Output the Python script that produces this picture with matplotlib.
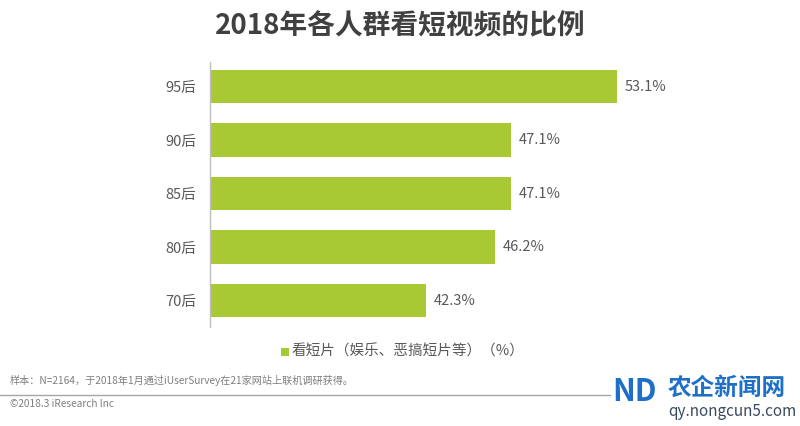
import matplotlib
matplotlib.use("Agg")
import matplotlib.pyplot as plt
from matplotlib.patches import Rectangle

plt.rcParams['font.family'] = ['Noto Sans CJK SC', 'DejaVu Sans']

categories = ["95后", "90后", "85后", "80后", "70后"]
values = [53.1, 47.1, 47.1, 46.2, 42.3]
value_labels = ["53.1%", "47.1%", "47.1%", "46.2%", "42.3%"]
title = "2018年各人群看短视频的比例"
legend_label = "看短片（娱乐、恶搞短片等）（%）"
footnote = "样本：N=2164，于2018年1月通过iUserSurvey在21家网站上联机调研获得。"
copyright_text = "©2018.3 iResearch Inc"

W, H = 800, 426
fig = plt.figure(figsize=(W / 100, H / 100), dpi=100)
fig.patch.set_facecolor("white")

bar_color = "#A8C934"
text_color = "#595959"

# axes: x from 210 to 700 px, y from 62 to 327 px
ax_left, ax_right = 210, 700
ax_top, ax_bottom = 62, 327
ax = fig.add_axes([ax_left / W, 1 - ax_bottom / H, (ax_right - ax_left) / W, (ax_bottom - ax_top) / H])
ax.set_facecolor("none")

xmin = 30
xmax = xmin + (ax_right - ax_left) / 17.6
pos = list(range(len(categories)))
ax.barh(pos, values, left=0, height=0.62, color=bar_color, edgecolor="none", zorder=2)
ax.set_xlim(xmin, xmax)
ax.set_ylim(4.495, -0.458)

for p, v, lab in zip(pos, values, value_labels):
    ax.annotate(lab, xy=(v, p), xytext=(5.5, 0), textcoords="offset points",
                ha="left", va="center", fontsize=10.5, color=text_color)

ax.set_yticks(pos)
ax.set_yticklabels(categories, fontsize=10.5, color=text_color)
ax.tick_params(axis="y", length=0, pad=10)
ax.set_xticks([])
for s in ["top", "right", "bottom"]:
    ax.spines[s].set_visible(False)
ax.spines["left"].set_color("#BFBFBF")
ax.spines["left"].set_linewidth(1.0)

# title
fig.text(400 / W, 1 - 26 / H, title, ha="center", va="center", fontsize=20,
         fontweight="bold", color="#404040")

# legend
fig.patches.append(Rectangle((281 / W, 1 - 356 / H), 8 / W, 8 / H, transform=fig.transFigure,
                             facecolor=bar_color, edgecolor="none"))
fig.text(292 / W, 1 - 352 / H, legend_label, ha="left", va="center", fontsize=10.5, color=text_color)

# footnote
fig.text(10 / W, 1 - 381 / H, footnote, ha="left", va="center", fontsize=7.3, color="#7F7F7F")
fig.add_artist(plt.Line2D([0, 610 / W], [1 - 395 / H, 1 - 395 / H], transform=fig.transFigure,
                          color="#A6A6A6", linewidth=1.0))
fig.text(10 / W, 1 - 404 / H, copyright_text, ha="left", va="center", fontsize=7.3, color="#7F7F7F")

# watermark
fig.text(612 / W, 1 - 392 / H, "ND", ha="left", va="center", fontsize=22, fontweight="bold",
         color="#1E6FC8")
fig.text(668 / W, 1 - 388 / H, "农企新闻网", ha="left", va="center", fontsize=17, fontweight="bold",
         color="#1E6FC8")
fig.text(668 / W, 1 - 411 / H, "qy.nongcun5.com", ha="left", va="center", fontsize=11,
         color="#3A4A5C")

fig.savefig("out.png", dpi=100, facecolor="white")
